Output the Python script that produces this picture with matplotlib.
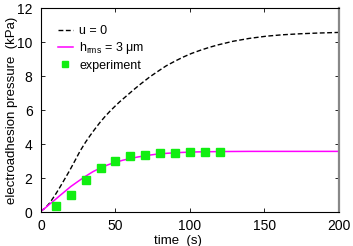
import matplotlib
matplotlib.use("Agg")
import matplotlib.pyplot as plt

plt.rcParams['font.family'] = ['Liberation Sans', 'DejaVu Sans']

# u = 0 model curve
t_u0 = [0, 3, 6, 9.5, 12.8, 16, 19.5, 23, 26.2, 30, 33, 36, 39.6, 43, 46.3, 50, 53, 57, 62, 67, 73, 78, 84, 90, 95.5, 101, 107, 113, 119, 129, 140, 151.5, 162, 174, 185, 200]
p_u0 = [0.05, 0.25, 0.55, 1.0, 1.47, 1.95, 2.48, 3.05, 3.58, 4.12, 4.5, 4.86, 5.27, 5.62, 5.93, 6.25, 6.5, 6.8, 7.18, 7.54, 7.95, 8.25, 8.6, 8.88, 9.12, 9.33, 9.52, 9.69, 9.84, 10.05, 10.22, 10.35, 10.43, 10.49, 10.53, 10.57]

# h_rms = 3 um model curve
t_h3 = [0, 3, 6, 9, 13, 17, 20, 25, 30, 35, 40, 45, 50, 55, 60, 65, 72, 78, 85, 95, 105, 120, 140, 170, 200]
p_h3 = [0.05, 0.25, 0.48, 0.69, 0.99, 1.28, 1.5, 1.81, 2.11, 2.38, 2.6, 2.78, 2.93, 3.05, 3.15, 3.24, 3.34, 3.41, 3.46, 3.51, 3.54, 3.56, 3.57, 3.57, 3.57]

# experiment
t_exp = [10, 20, 30, 40, 50, 60, 70, 80, 90, 100, 110, 120]
p_exp = [0.35, 1.0, 1.88, 2.57, 3.03, 3.3, 3.38, 3.45, 3.5, 3.54, 3.55, 3.55]

xticks = [0, 50, 100, 150, 200]
yticks = [0, 2, 4, 6, 8, 10, 12]

fig = plt.figure(figsize=(3.53, 2.46), dpi=100)
ax = fig.add_axes([0.116, 0.138, 0.844, 0.829])

ax.plot(t_u0, p_u0, color='black', lw=1.0, ls=(0, (3.5, 1.8)), label='u = 0')
ax.plot(t_h3, p_h3, color='#ff00ff', lw=1.1, label=r'h$_{\mathregular{rms}}$ = 3 μm')
ax.plot(t_exp, p_exp, ls='none', marker='s', ms=5.3, color='#11ee11', mec='#11ee11', label='experiment')

ax.set_xlim(0, 200)
ax.set_ylim(0, 12)
ax.set_xticks(xticks)
ax.set_yticks(yticks)
ax.tick_params(direction='in', top=True, right=True, labelsize=10, length=3, width=0.6)
ax.tick_params(axis='x', pad=5)
ax.tick_params(axis='y', pad=6)
for s in ['left', 'top', 'bottom']:
    ax.spines[s].set_linewidth(0.8)
ax.spines['right'].set_color('#888888')
ax.spines['right'].set_linewidth(1.6)

ax.set_xlabel('time  (s)', fontsize=9.5, va='center')
ax.xaxis.set_label_coords(0.46, -0.14)
ax.set_ylabel('electroadhesion pressure  (kPa)', fontsize=9.5, va='center')
ax.yaxis.set_label_coords(-0.097, 0.5)

ax.legend(loc='upper left', bbox_to_anchor=(0.04, 0.94), frameon=False, fontsize=9,
          handlelength=1.2, handletextpad=0.5, labelspacing=0.25, borderaxespad=0,
          markerscale=0.85)

fig.savefig('out.png', dpi=100)
